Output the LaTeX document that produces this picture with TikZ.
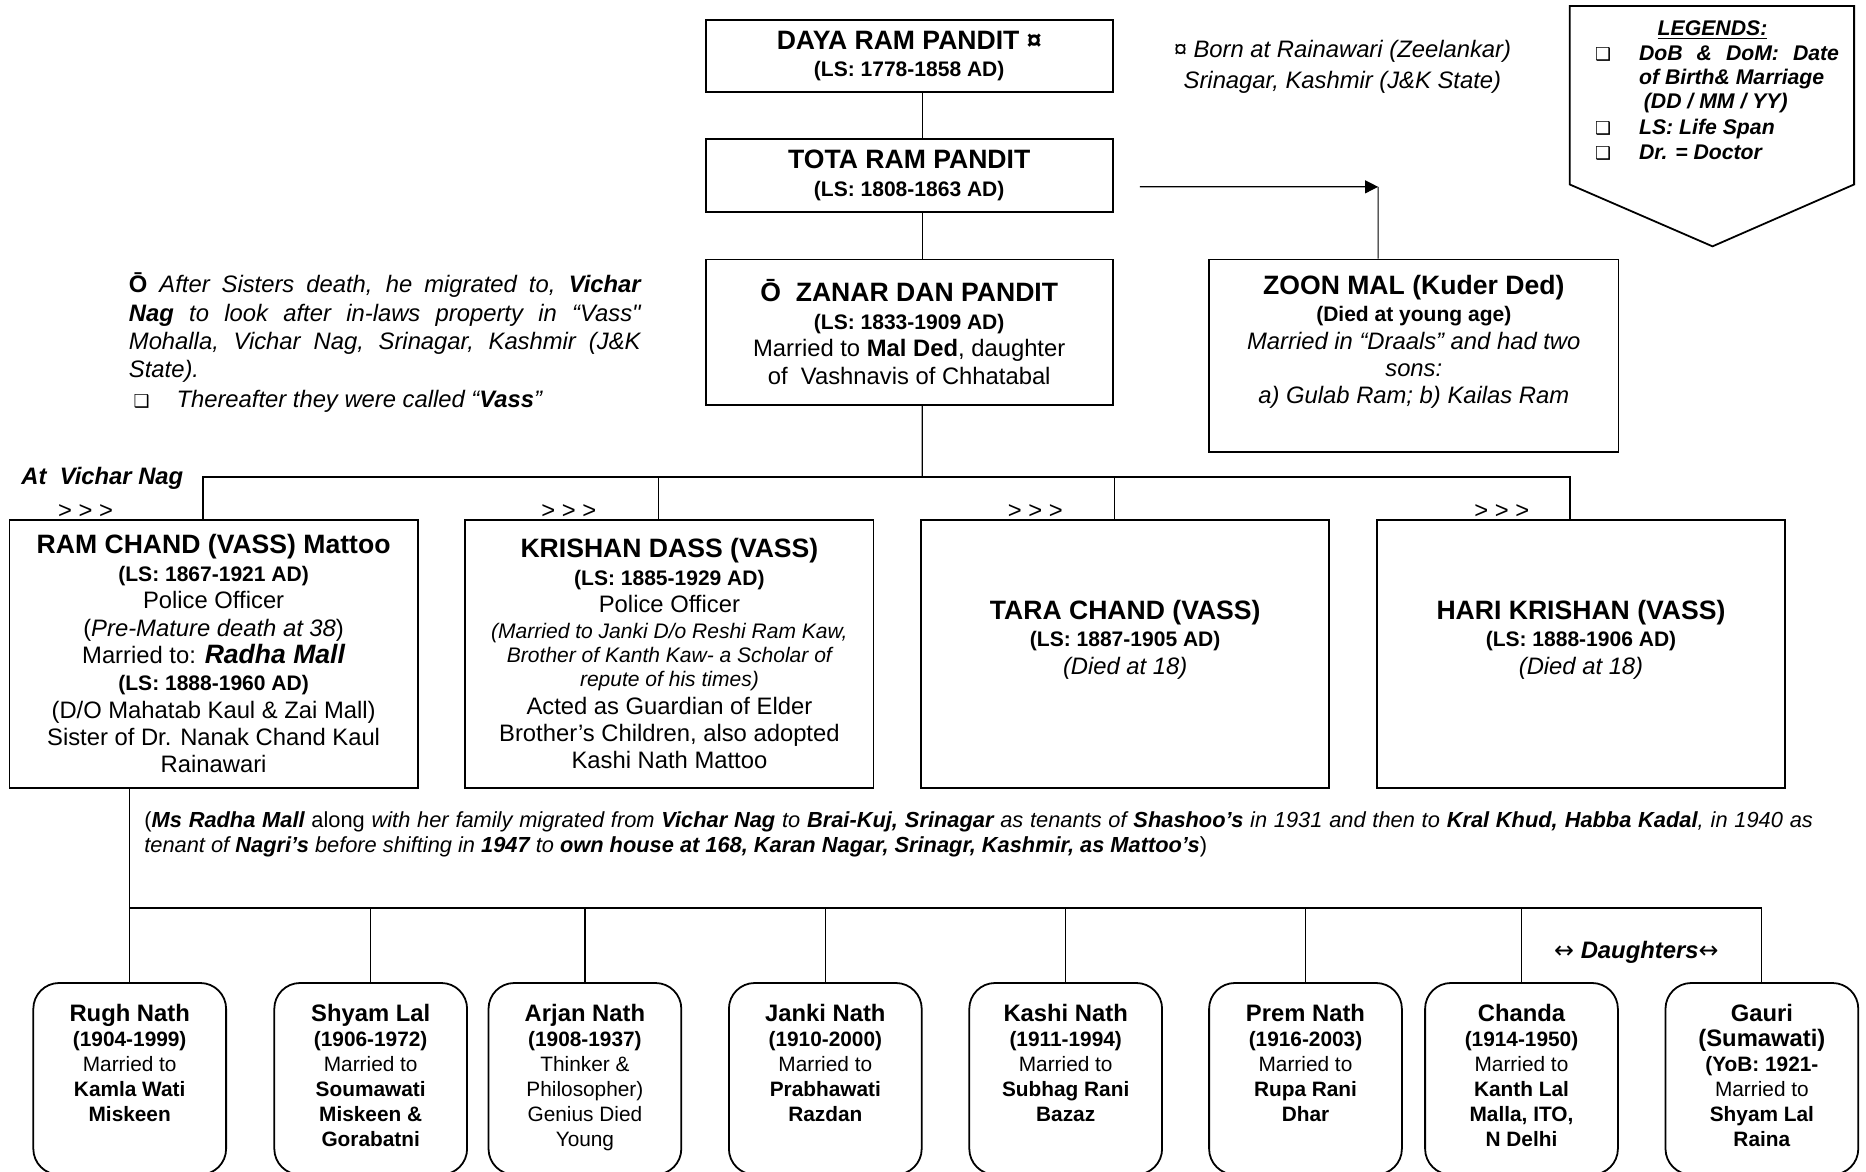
\documentclass[tikz,border=0pt]{standalone}
\usepackage{fontspec}
\setmainfont{Liberation Sans}[Ligatures=TeXOff]
\newfontfamily\symfont{DejaVu Sans}
\usetikzlibrary{positioning,arrows.meta}

\newcommand\ttl{\fontsize{13.4}{13.8}\selectfont\bfseries}
\newcommand\lsf{\fontsize{10.6}{13.8}\selectfont\bfseries}
\newcommand\sit{\fontsize{10.6}{13.8}\selectfont\itshape}
\newcommand\kname{\fontsize{12}{12.6}\selectfont\bfseries}
\newcommand\chk{{\symfont\fontsize{9}{9}\selectfont ❑}}

\begin{document}
\begin{tikzpicture}[x=0.6pt, y=-0.6pt,
        pbox/.style={draw, line width=0.9pt, minimum width=205.8pt, minimum height=135pt, align=center, inner sep=1pt, font=\fontsize{12}{13.8}\selectfont},
        topbox/.style={pbox, minimum width=205.2pt},
        kid/.style={draw, line width=0.9pt, rounded corners=13pt, minimum width=97.2pt, minimum height=96.6pt},
        kidtxt/.style={align=center, inner sep=0pt, font=\fontsize{10.5}{12.6}\selectfont},
        txt/.style={align=center, inner sep=0pt, font=\fontsize{12}{13.8}\selectfont},
        note/.style={inner sep=0pt, anchor=base west, font=\fontsize{12}{14}\selectfont\itshape},
        legend/.style={inner sep=0pt, anchor=base west, font=\fontsize{10.7}{12.4}\selectfont\bfseries\itshape},
        link/.style={line width=0.6pt},
        bus/.style={line width=0.9pt},
        arrow/.style={link, -{Triangle[length=6.5pt, width=6.5pt]}}
    ]
    \useasboundingbox (0,0) rectangle (1568,984);
    \clip (0,0) rectangle (1568,984);

    % Ancestors
    \node[topbox, minimum height=36pt] (daya) at (764,47) {{\ttl DAYA RAM PANDIT ¤}\\ {\lsf (LS: 1778-1858 AD)}};
    \node[topbox, minimum height=36.6pt] (tota) at (764,147.5) {{\ttl TOTA RAM PANDIT}\\ {\lsf (LS: 1808-1863 AD)}};
    \node[topbox, minimum height=73.2pt] (zanar) at (764,279) {{\ttl Ō\ \ ZANAR DAN PANDIT}\\ {\lsf (LS: 1833-1909 AD)}\\ Married to \textbf{Mal Ded}, daughter\\ of\ \ Vashnavis of Chhatabal};
    \node[pbox, minimum width=206.4pt, minimum height=97.2pt] (zoon) at (1188,299) {};
    \node[txt] (zoon-txt) at ([yshift=7pt]zoon.center) {{\ttl ZOON MAL (Kuder Ded)}\\ {\lsf (Died at young age)}\\ \textit{Married in “Draals” and had two}\\ \textit{sons:}\\ \textit{a) Gulab Ram; b) Kailas Ram}};

    \draw[link] ([xshift=6.6pt]daya.south) -- ([xshift=6.6pt]tota.north);
    \draw[link] ([xshift=6.6pt]tota.south) -- ([xshift=6.6pt]zanar.north);
    \coordinate (fork) at (1158,157);
    \draw[link] ([xshift=-18pt]zoon.north) -- (fork);
    \draw[arrow] ([xshift=13.2pt,yshift=-5.7pt]tota.east) -- (fork);

    % Notes at the top
    \node[txt, font=\fontsize{12}{15.6}\selectfont\itshape] (born) at (1128,56) {¤ Born at Rainawari (Zeelankar)\\ Srinagar, Kashmir (J\&K State)};
    \node[note] (mig1) at (108,246) {\makebox[258pt][s]{\textbf{\upshape Ō} After Sisters death, he migrated to, \textbf{Vichar}}};
    \node[note] (mig2) at (108,270) {\makebox[258pt][s]{\textbf{Nag} to look after in-laws property in “Vass"}};
    \node[note] (mig3) at (108,294) {\makebox[258pt][s]{Mohalla, Vichar Nag, Srinagar, Kashmir (J\&K}};
    \node[note] (mig4) at (108,317) {State).};
    \node[note] (mig5) at (112,342) {\chk};
    \node[note] (mig6) at (148,342) {Thereafter they were called “\textbf{Vass}”};

    % Legend
    \draw[bus] (1319,5) -- (1558,5) -- (1558,155) -- (1439,207) -- (1319,155) -- cycle;
    \node[legend, anchor=base] (legtitle) at (1439,30) {\underline{LEGENDS:}};
    \node[note] (lb1) at (1340,51) {\chk};
    \node[note] (lb2) at (1340,113) {\chk};
    \node[note] (lb3) at (1340,134) {\chk};
    \node[legend] (leg1) at (1377,51) {\makebox[100.8pt][s]{DoB \& DoM: Date}};
    \node[legend] (leg2) at (1377,71) {of Birth\& Marriage};
    \node[legend] (leg3) at (1381,91) {(DD / MM / YY)};
    \node[legend] (leg4) at (1377,113) {LS: Life Span};
    \node[legend] (leg5) at (1377,134) {Dr. = Doctor};

    % Sons of Zanar Dan
    \node[pbox] (ramchand) at (179.5,549.5) {{\ttl RAM CHAND (VASS) Mattoo}\\ {\lsf (LS: 1867-1921 AD)}\\ Police Officer\\ (\textit{Pre-Mature death at 38})\\ Married to: {\ttl\itshape Radha Mall}\\ {\lsf (LS: 1888-1960 AD)}\\ (D/O Mahatab Kaul \& Zai Mall)\\ Sister of Dr. Nanak Chand Kaul\\ Rainawari};
    \node[pbox] (krishan) at (562.5,549.5) {{\ttl KRISHAN DASS (VASS)}\\ {\lsf (LS: 1885-1929 AD)}\\ Police Officer\\[-1pt] {\sit (Married to Janki D/o Reshi Ram Kaw,}\\[-1.5pt] {\sit Brother of Kanth Kaw- a Scholar of}\\[-1.5pt] {\sit repute of his times)}\\ Acted as Guardian of Elder\\ Brother’s Children, also adopted\\ Kashi Nath Mattoo};
    \node[pbox] (tara) at (945.5,549.5) {};
    \node[txt] (tara-txt) at ([yshift=7.2pt]tara.center) {{\ttl TARA CHAND (VASS)}\\ {\lsf (LS: 1887-1905 AD)}\\ \textit{(Died at 18)}};
    \node[pbox] (hari) at (1328.5,549.5) {};
    \node[txt] (hari-txt) at ([yshift=7.2pt]hari.center) {{\ttl HARI KRISHAN (VASS)}\\ {\lsf (LS: 1888-1906 AD)}\\ \textit{(Died at 18)}};

    \coordinate (vbus) at (775,401);
    \coordinate (rc-top) at ([xshift=-5.4pt]ramchand.north);
    \coordinate (kd-top) at ([xshift=-5.4pt]krishan.north);
    \coordinate (tc-top) at ([xshift=-5.4pt]tara.north);
    \coordinate (hk-top) at ([xshift=-5.4pt]hari.north);
    \draw[link] ([xshift=6.6pt]zanar.south) -- (vbus);
    \draw[bus] (rc-top) -- (rc-top |- vbus) -- (hk-top |- vbus) -- (hk-top);
    \draw[link] (kd-top |- vbus) -- (kd-top);
    \draw[link] (tc-top |- vbus) -- (tc-top);

    \node[txt, anchor=base, font=\fontsize{12}{14}\selectfont\bfseries\itshape] (vnag) at (86,407) {At\ \ Vichar Nag};
    \node[txt, anchor=base] (go1) at (72,436) {> > >};
    \node[txt, anchor=base] (go2) at (478,436) {> > >};
    \node[txt, anchor=base] (go3) at (870,436) {> > >};
    \node[txt, anchor=base] (go4) at (1262,436) {> > >};

    % Migration note
    \node[note, font=\fontsize{11}{12.6}\selectfont\itshape] (shift1) at (121,695) {\makebox[841.2pt][s]{{\upshape(}\textbf{Ms Radha Mall} {\upshape along} with her family migrated from \textbf{Vichar Nag} to \textbf{Brai-Kuj, Srinagar} as tenants of \textbf{Shashoo’s} in 1931 and then to \textbf{Kral Khud, Habba Kadal}, in 1940 as}};
    \node[note, font=\fontsize{11}{12.6}\selectfont\itshape] (shift2) at (121,716) {tenant of \textbf{Nagri’s} before shifting in \textbf{1947} to \textbf{own house at 168, Karan Nagar, Srinagr, Kashmir, as Mattoo’s}{\upshape)}};

    % Children of Ram Chand
    \node[kid] (rugh) at (109,906.5) {};
    \node[kid] (shyam) at (311.5,906.5) {};
    \node[kid] (arjan) at (491.5,906.5) {};
    \node[kid] (janki) at (693.5,906.5) {};
    \node[kid] (kashi) at (895.5,906.5) {};
    \node[kid] (prem) at (1097,906.5) {};
    \node[kid] (chanda) at (1278.5,906.5) {};
    \node[kid] (gauri) at (1480.5,906.5) {};

    \node[kidtxt, below=11pt of rugh.north] (rugh-txt) {{\kname Rugh Nath}\\ \textbf{(1904-1999)}\\ Married to\\ \textbf{Kamla Wati}\\ \textbf{Miskeen}};
    \node[kidtxt, below=11pt of shyam.north] (shyam-txt) {{\kname Shyam Lal}\\ \textbf{(1906-1972)}\\ Married to\\ \textbf{Soumawati}\\ \textbf{Miskeen \&}\\ \textbf{Gorabatni}};
    \node[kidtxt, below=11pt of arjan.north] (arjan-txt) {{\kname Arjan Nath}\\ \textbf{(1908-1937)}\\ Thinker \&\\ Philosopher)\\ Genius Died\\ Young};
    \node[kidtxt, below=11pt of janki.north] (janki-txt) {{\kname Janki Nath}\\ \textbf{(1910-2000)}\\ Married to\\ \textbf{Prabhawati}\\ \textbf{Razdan}};
    \node[kidtxt, below=11pt of kashi.north] (kashi-txt) {{\kname Kashi Nath}\\ \textbf{(1911-1994)}\\ Married to\\ \textbf{Subhag Rani}\\ \textbf{Bazaz}};
    \node[kidtxt, below=11pt of prem.north] (prem-txt) {{\kname Prem Nath}\\ \textbf{(1916-2003)}\\ Married to\\ \textbf{Rupa Rani}\\ \textbf{Dhar}};
    \node[kidtxt, below=11pt of chanda.north] (chanda-txt) {{\kname Chanda}\\ \textbf{(1914-1950)}\\ Married to\\ \textbf{Kanth Lal}\\ \textbf{Malla, ITO,}\\ \textbf{N Delhi}};
    \node[kidtxt, below=11pt of gauri.north] (gauri-txt) {{\kname Gauri}\\ {\kname (Sumawati)}\\ \textbf{(YoB: 1921-}\\ Married to\\ \textbf{Shyam Lal}\\ \textbf{Raina}};

    \coordinate (kbus) at (0,763);
    \draw[link] (rugh.north |- ramchand.south) -- (rugh.north);
    \draw[bus] (rugh.north |- kbus) -- (gauri.north |- kbus);
    \draw[link] (shyam.north |- kbus) -- (shyam.north) (arjan.north |- kbus) -- (arjan.north)
        (janki.north |- kbus) -- (janki.north) (kashi.north |- kbus) -- (kashi.north)
        (prem.north |- kbus) -- (prem.north) (chanda.north |- kbus) -- (chanda.north)
        (gauri.north |- kbus) -- (gauri.north);

    \node[txt, font=\fontsize{12}{14}\selectfont] (dtrs) at (1375,800) {{\symfont ↔} \textbf{\textit{Daughters}}{\symfont ↔}};

\end{tikzpicture}
\end{document}
